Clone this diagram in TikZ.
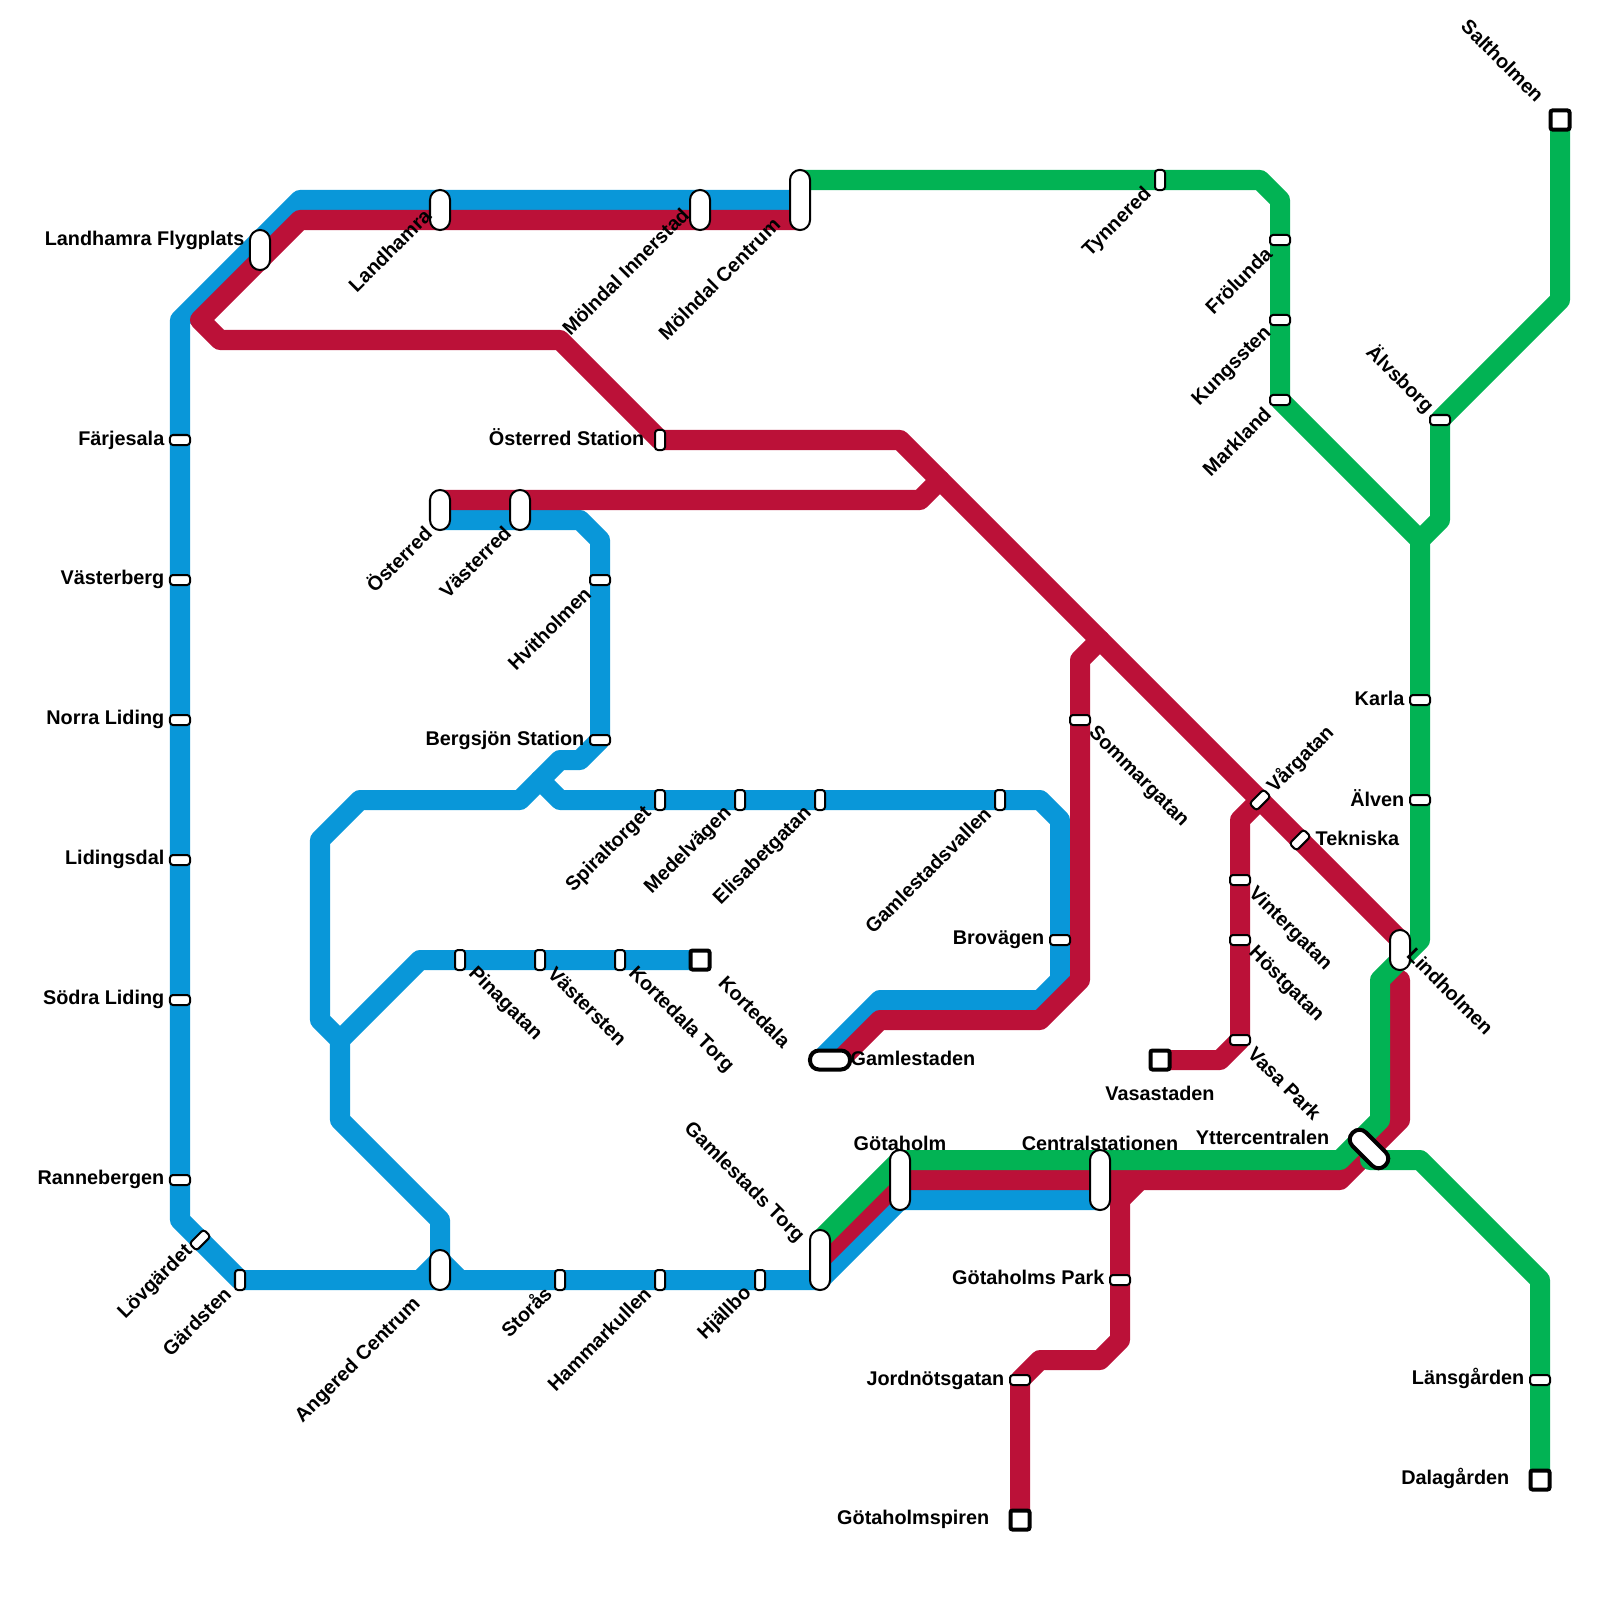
\documentclass[tikz,border=0pt]{standalone}
\usepackage{fontspec}
\setmainfont{Liberation Sans}
\usetikzlibrary{positioning}
\definecolor{lineblue}{RGB}{9,151,217}
\definecolor{linered}{RGB}{187,17,56}
\definecolor{linegreen}{RGB}{2,179,84}

\begin{document}
\begin{tikzpicture}[
    x=0.01cm, y=-0.01cm,
    metroline/.style={line width=0.2cm, line join=round, line cap=round},
    stopbase/.style={draw=black, fill=white, line width=0.02cm, inner sep=0pt, outer sep=0pt},
    hstop/.style={stopbase, minimum width=0.2cm, minimum height=0.1cm, rounded corners=0.03cm},
    vstop/.style={stopbase, minimum width=0.1cm, minimum height=0.2cm, rounded corners=0.03cm},
    longstop/.style={stopbase, minimum width=0.2cm, minimum height=0.4cm, rounded corners=0.099cm},
    hugestop/.style={stopbase, minimum width=0.2cm, minimum height=0.6cm, rounded corners=0.099cm},
    endstop/.style={stopbase, line width=0.04cm, minimum size=0.19cm, rounded corners=0.02cm},
    capsule/.style={stopbase, line width=0.04cm, minimum width=0.4cm, minimum height=0.19cm, rounded corners=0.09cm},
    stoplabel/.style={inner sep=0pt, font=\fontsize{5.64}{6.8}\selectfont\bfseries},
    toleft/.style={stoplabel, anchor=east},
    toright/.style={stoplabel, anchor=west},
    overhead/.style={stoplabel, anchor=center},
    rise/.style={stoplabel, rotate=45, anchor=east},
    riseout/.style={stoplabel, rotate=45, anchor=west},
    fall/.style={stoplabel, rotate=-45, anchor=west},
    fallin/.style={stoplabel, rotate=-45, anchor=east}
  ]
    \useasboundingbox (0,0) rectangle (1600,1600);

    % Blue lines
    \draw[metroline, lineblue] (800,200) -- (300,200) -- (180,320) -- (180,1220) -- (240,1280)
      -- (820,1280) -- (900,1200) -- (1100,1200);
    \draw[metroline, lineblue] (420,1280) -- (440,1260) -- (460,1280);
    \draw[metroline, lineblue] (440,520) -- (580,520) -- (600,540) -- (600,740) -- (580,760)
      -- (560,760) -- (520,800) -- (360,800) -- (320,840) -- (320,1020) -- (340,1040)
      -- (340,1120) -- (440,1220) -- (440,1270);
    \draw[metroline, lineblue] (700,960) -- (420,960) -- (340,1040);
    \draw[metroline, lineblue] (540,780) -- (560,800) -- (1040,800) -- (1060,820) -- (1060,980)
      -- (1040,1000) -- (880,1000) -- (820,1060);

    % Red lines
    \draw[metroline, linered] (800,220) -- (300,220) -- (200,320) -- (220,340) -- (560,340)
      -- (660,440) -- (900,440) -- (1400,940);
    \draw[metroline, linered] (440,500) -- (920,500) -- (940,480);
    \draw[metroline, linered] (1100,640) -- (1080,660) -- (1080,980) -- (1040,1020) -- (880,1020)
      -- (840,1060);
    \draw[metroline, linered] (1260,800) -- (1240,820) -- (1240,1040) -- (1220,1060) -- (1160,1060);
    \draw[metroline, linered] (1400,980) -- (1400,1120) -- (1340,1180) -- (900,1180) -- (820,1260);
    \draw[metroline, linered] (1100,1180) -- (1120,1200) -- (1140,1180);
    \draw[metroline, linered] (1120,1200) -- (1120,1340) -- (1100,1360) -- (1040,1360)
      -- (1020,1380) -- (1020,1520);

    % Green lines
    \draw[metroline, linegreen] (800,180) -- (1260,180) -- (1280,200) -- (1280,400) -- (1420,540)
      -- (1440,520) -- (1440,420) -- (1560,300) -- (1560,120);
    \draw[metroline, linegreen] (1420,540) -- (1420,940) -- (1380,980) -- (1380,1120) -- (1340,1160)
      -- (900,1160) -- (820,1240);
    \draw[metroline, linegreen] (1370,1160) -- (1420,1160) -- (1540,1280) -- (1540,1480);

    % Stops across a vertical line
    \foreach \name/\x/\y in {farjesala/180/440, vasterberg/180/580, norraliding/180/720,
        lidingsdal/180/860, sodraliding/180/1000, rannebergen/180/1180, hvitholmen/600/580,
        bergsjon/600/740, brovagen/1060/940, sommargatan/1080/720, vintergatan/1240/880,
        hostgatan/1240/940, vasapark/1240/1040, gotaholmspark/1120/1280, jordnot/1020/1380,
        frolunda/1280/240, kungssten/1280/320, markland/1280/400, alvsborg/1440/420,
        karla/1420/700, alven/1420/800, lansgarden/1540/1380} {
      \node[hstop] (\name) at (\x,\y) {};
    }

    % Stops across a horizontal line
    \foreach \name/\x/\y in {gardsten/240/1280, osterredst/660/440, spiraltorget/660/800,
        medelvagen/740/800, elisabet/820/800, gamlevallen/1000/800, pinagatan/460/960,
        vastersten/540/960, kortedalatorg/620/960, storas/560/1280, hammarkullen/660/1280,
        hjallbo/760/1280, tynnered/1160/180} {
      \node[vstop] (\name) at (\x,\y) {};
    }

    % Stops on a diagonal
    \node[hstop, rotate=45] (lovgardet) at (200,1240) {};
    \node[hstop, rotate=45] (vargatan) at (1260,800) {};
    \node[hstop, rotate=45] (tekniska) at (1300,840) {};

    % Interchanges
    \foreach \name/\x/\y in {flygplats/260/250, landhamra/440/210, innerstad/700/210,
        osterred/440/510, vasterred/520/510, angered/440/1270, lindholmen/1400/950} {
      \node[longstop] (\name) at (\x,\y) {};
    }
    \foreach \name/\x/\y in {molndal/800/200, gamlestorg/820/1260, gotaholm/900/1180,
        central/1100/1180} {
      \node[hugestop] (\name) at (\x,\y) {};
    }
    \node[capsule] (gamlestaden) at (830,1060) {};
    \node[capsule, minimum width=0.46cm, rotate=-45] (ytter) at (1369,1149) {};

    % Terminals
    \foreach \name/\x/\y in {kortedala/700/960, vasastaden/1160/1060, spiren/1020/1520,
        saltholmen/1560/120, dalagarden/1540/1480} {
      \node[endstop] (\name) at (\x,\y) {};
    }

    % Labels left of their stop
    \foreach \name/\x/\y/\txt in {farjesala/165/440/Färjesala, vasterberg/165/579/Västerberg,
        norraliding/165/719/Norra Liding, lidingsdal/165/859/Lidingsdal,
        sodraliding/165/999/Södra Liding, rannebergen/165/1179/Rannebergen,
        flygplats/245/240/Landhamra Flygplats, osterredst/645/437/Österred Station,
        bergsjon/585/740/Bergsjön Station, brovagen/1045/940/Brovägen,
        gotaholmspark/1105/1277/Götaholms Park, jordnot/1005/1380/Jordnötsgatan,
        spiren/990/1519/Götaholmspiren, karla/1405/698/Karla, alven/1405/798/Älven,
        lansgarden/1525/1378/Länsgården, dalagarden/1510/1478/Dalagården,
        ytter/1330/1137/Yttercentralen} {
      \node[toleft] (\name-text) at (\x,\y) {\txt};
    }

    % Labels right of their stop, and above or below it
    \node[toright] (gamlestaden-text) at (850,1058) {Gamlestaden};
    \node[toright] (tekniska-text) at (1315,838) {Tekniska};
    \node[overhead] (vasastaden-text) at (1160,1093) {Vasastaden};
    \node[overhead] (gotaholm-text) at (900,1143) {Götaholm};
    \node[overhead] (central-text) at (1100,1143) {Centralstationen};

    % Labels rising towards their stop
    \foreach \name/\x/\y/\txt in {landhamra/428/212/Landhamra, innerstad/686/211/Mölndal Innerstad,
        molndal/777/221/Mölndal Centrum, osterred/428/529/Österred, vasterred/508/529/Västerred,
        hvitholmen/588/590/Hvitholmen, spiraltorget/649/810/Spiraltorget,
        medelvagen/729/810/Medelvägen, elisabet/809/810/Elisabetgatan,
        gamlevallen/988/810/Gamlestadsvallen, storas/548/1289/Storås,
        hammarkullen/648/1290/Hammarkullen, hjallbo/749/1290/Hjällbo,
        angered/418/1301/Angered Centrum, lovgardet/190/1248/Lövgärdet, gardsten/228/1290/Gärdsten,
        tynnered/1149/191/Tynnered, frolunda/1269/250/Frölunda, kungssten/1269/330/Kungssten,
        markland/1268/410/Markland} {
      \node[rise] (\name-text) at (\x,\y) {\txt};
    }
    \node[riseout] (vargatan-text) at (1270,790) {Vårgatan};

    % Labels falling away from their stop
    \foreach \name/\x/\y/\txt in {sommargatan/1091/730/Sommargatan, vintergatan/1251/890/Vintergatan,
        hostgatan/1251/950/Höstgatan, vasapark/1251/1050/Vasa Park, lindholmen/1410/951/Lindholmen,
        pinagatan/471/970/Pinagatan, vastersten/551/970/Västersten,
        kortedalatorg/631/970/Kortedala Torg, kortedala/722/979/Kortedala} {
      \node[fall] (\name-text) at (\x,\y) {\txt};
    }
    \node[fallin] (gamlestorg-text) at (801,1240) {Gamlestads Torg};
    \node[fallin] (alvsborg-text) at (1431,410) {Älvsborg};
    \node[fallin] (saltholmen-text) at (1541,99) {Saltholmen};
  \end{tikzpicture}
\end{document}
